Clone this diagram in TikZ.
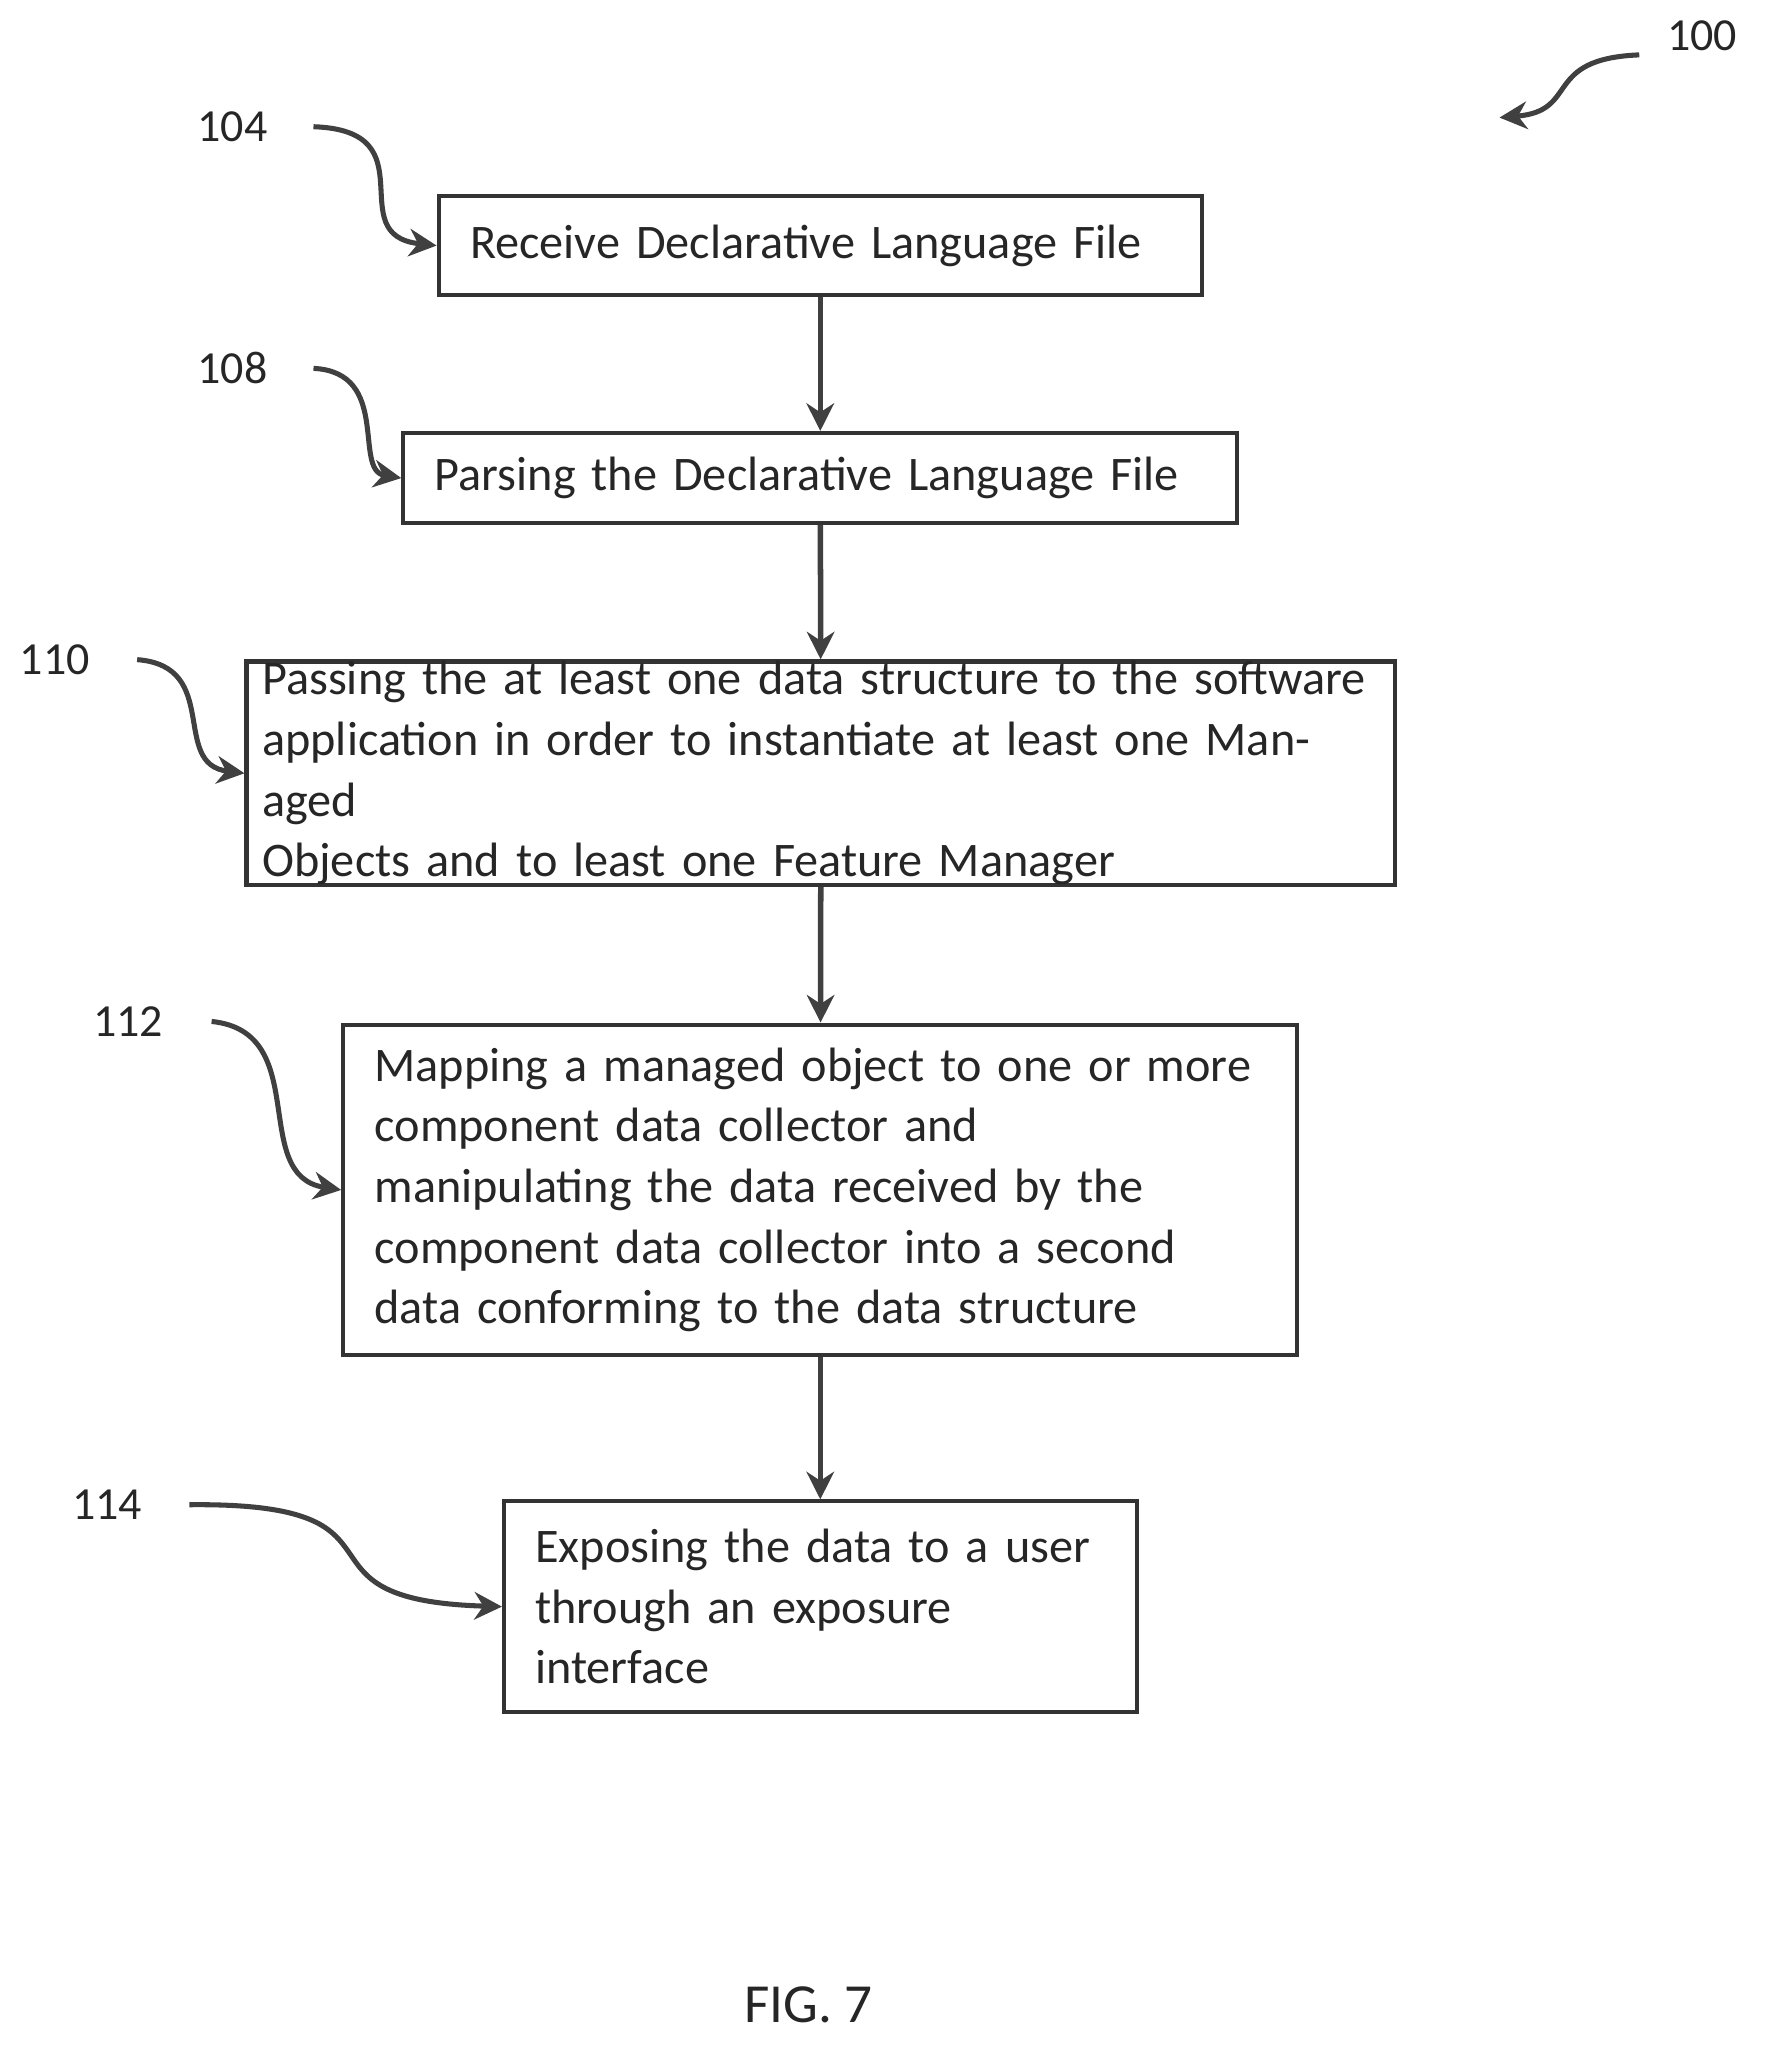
\documentclass[tikz,border=0pt]{standalone}
\usepackage{fontspec}
\setmainfont{Carlito}
\usetikzlibrary{arrows.meta}
\begin{document}
\begin{tikzpicture}[x=0.01cm,y=-0.01cm,
 box/.style={draw=black!80,line width=0.9pt,align=left,inner sep=0pt,font=\fontsize{10.5}{13.2}\selectfont,text=black!85},
 lab/.style={font=\fontsize{10}{12}\selectfont,text=black!85},
 flow/.style={draw=black!75,line width=1.2pt,-{Stealth[length=6pt,width=6pt]}},
 ref/.style={draw=black!75,line width=1.1pt,-{Stealth[length=6pt,width=6pt]}}]
\useasboundingbox (0,0) rectangle (1360,1584);
\node[box,minimum width=5.84cm,minimum height=0.76cm,text width=5.36cm] (b1) at (628,188) {Receive Declarative Language File};
\node[box,minimum width=6.38cm,minimum height=0.69cm,text width=5.90cm] (b2) at (628,366) {Parsing the Declarative Language File};
\node[box,minimum width=8.79cm,minimum height=1.60cm,text width=8.55cm] (b3) at (628.5,592) {Passing the at least one data structure to the software\\ application in order to instantiate at least one Managed\\ Objects and to least one Feature Manager};
\node[box,minimum width=7.30cm,minimum height=2.53cm,text width=6.82cm] (b4) at (628,911) {Mapping a managed object to one or more\\ component data collector and\\ manipulating the data received by the\\ component data collector into a second\\ data conforming to the data structure};
\node[box,minimum width=4.84cm,minimum height=1.61cm,text width=4.36cm] (b5) at (628,1230) {Exposing the data to a user\\ through an exposure\\ interface};
\draw[flow] (b1) -- (b2);
\draw[flow] (b2) -- (b3);
\draw[flow] (b3) -- (b4);
\draw[flow] (b4) -- (b5);
\node[lab] (l104) at (178,97) {104};
\node[lab] (l108) at (178,282) {108};
\node[lab] (l110) at (42,505) {110};
\node[lab] (l112) at (98,782) {112};
\node[lab] (l114) at (82,1152) {114};
\node[lab] (l100) at (1303,27) {100};
\coordinate (t100) at (1148,90);
\draw[ref] (240,97) .. controls (330,100) and (260,180) .. (b1.west);
\draw[ref] (240,282) .. controls (300,285) and (270,360) .. (b2.west);
\draw[ref] (105,505) .. controls (170,510) and (130,585) .. (b3.west);
\draw[ref] (162,782) .. controls (240,790) and (190,900) .. (b4.west);
\draw[ref] (145,1152) .. controls (330,1150) and (210,1225) .. (b5.west);
\draw[ref] (1255,42) .. controls (1180,45) and (1210,85) .. (t100);
\node[font=\fontsize{12}{14}\selectfont,text=black!85] (fig) at (619,1535) {FIG. 7};
\end{tikzpicture}
\end{document}
